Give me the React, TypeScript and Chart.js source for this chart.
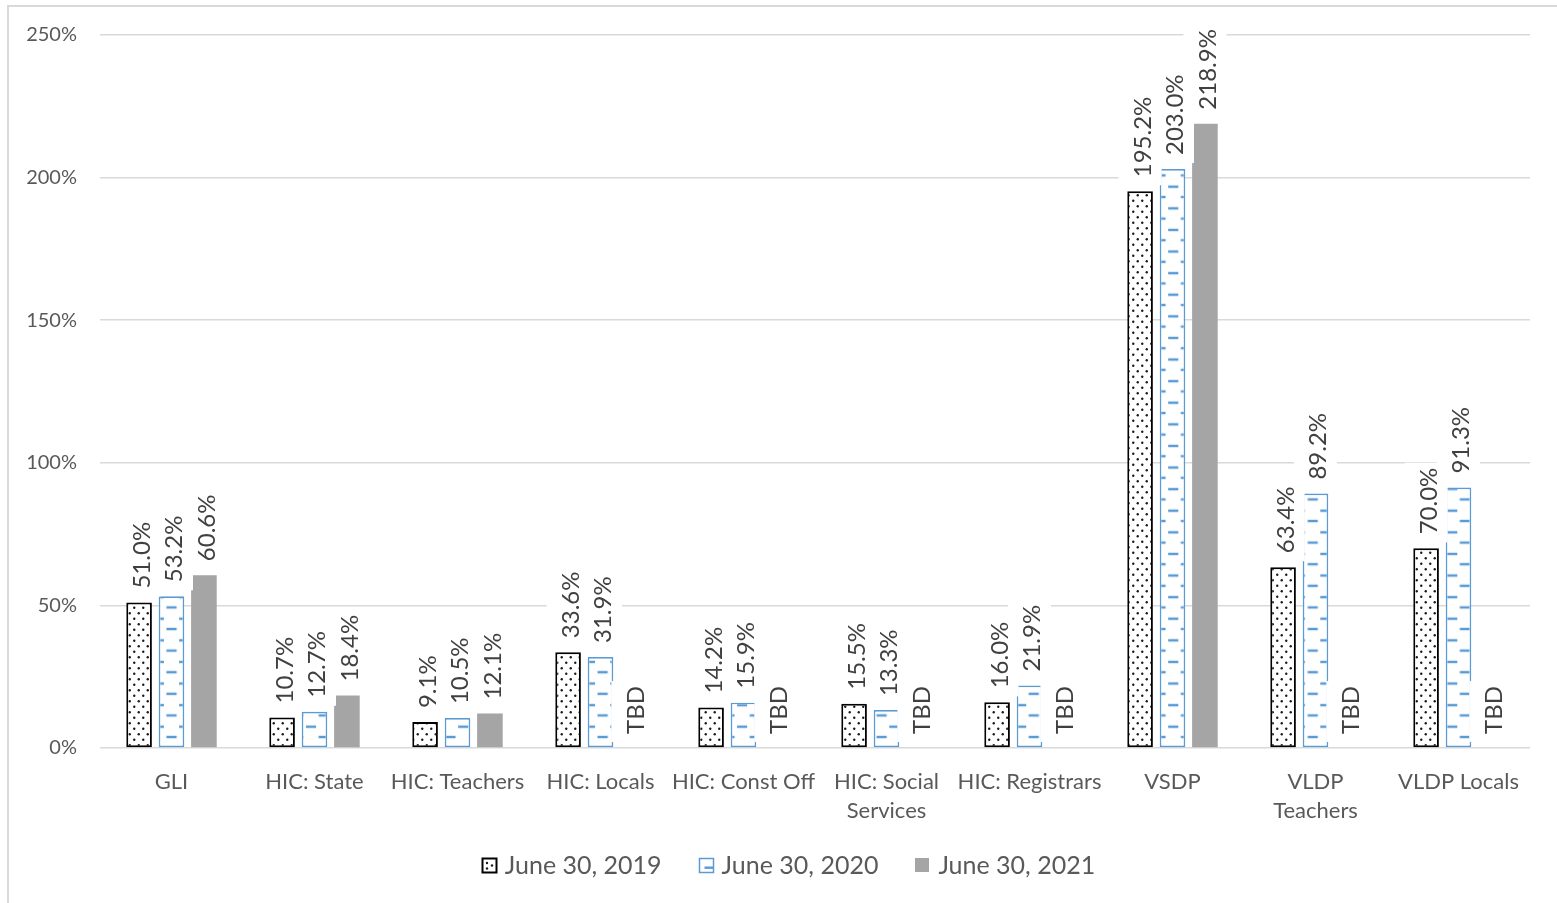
import React, { useEffect, useRef } from 'react';
import { Chart, registerables } from 'chart.js';

Chart.register(...registerables);

// Categories along the x axis (arrays give multi-line labels)
const categories: string[][] = [
  ['GLI'],
  ['HIC: State'],
  ['HIC: Teachers'],
  ['HIC: Locals'],
  ['HIC: Const Off'],
  ['HIC: Social', 'Services'],
  ['HIC: Registrars'],
  ['VSDP'],
  ['VLDP', 'Teachers'],
  ['VLDP Locals'],
];

const seriesLabels = ['June 30, 2019', 'June 30, 2020', 'June 30, 2021'];

// Funded ratios in percent; null = not yet determined
const rates2019: number[] = [51.0, 10.7, 9.1, 33.6, 14.2, 15.5, 16.0, 195.2, 63.4, 70.0];
const rates2020: number[] = [53.2, 12.7, 10.5, 31.9, 15.9, 13.3, 21.9, 203.0, 89.2, 91.3];
const rates2021: (number | null)[] = [60.6, 18.4, 12.1, null, null, null, null, 218.9, null, null];

const yMin = 0;
const yMax = 250;
const yStep = 50;
const pendingText = 'TBD';

const FONT = 'Lato, "Open Sans", sans-serif';
const TEXT = '#595959';
const LABEL = '#404040';
const GRID = '#d9d9d9';
const BLUE = '#5b9bd5';
const GRAY = '#a5a5a5';

// Dash hatch tile (scaled through the pattern transform)
const DASH_W = 25;
const DASH_H = 21;
const DASH_PERIOD_X = 25.36;
const DASH_PERIOD_Y = 21.6;

function dotTile(): HTMLCanvasElement {
  const c = document.createElement('canvas');
  c.width = 9;
  c.height = 11;
  const g = c.getContext('2d')!;
  g.fillStyle = '#ffffff';
  g.fillRect(0, 0, 9, 11);
  g.fillStyle = '#1a1a1a';
  g.beginPath();
  g.arc(2.25, 2.75, 1.2, 0, Math.PI * 2);
  g.fill();
  g.beginPath();
  g.arc(6.75, 8.25, 1.2, 0, Math.PI * 2);
  g.fill();
  return c;
}

function dashTile(): HTMLCanvasElement {
  const c = document.createElement('canvas');
  c.width = DASH_W;
  c.height = DASH_H;
  const g = c.getContext('2d')!;
  g.fillStyle = '#ffffff';
  g.fillRect(0, 0, DASH_W, DASH_H);
  g.fillStyle = BLUE;
  const len = 10;
  g.fillRect(DASH_W / 2 - len / 2, 9.8, len, 2.4);
  g.fillRect(0, -0.2, len / 2, 2.4);
  g.fillRect(DASH_W - len / 2, -0.2, len / 2, 2.4);
  g.fillRect(0, DASH_H - 0.2, len / 2, 2.4);
  g.fillRect(DASH_W - len / 2, DASH_H - 0.2, len / 2, 2.4);
  return c;
}

// Rotated value labels on a white backing, "TBD" where no value exists
const valueLabels = {
  id: 'valueLabels',
  afterDatasetsDraw(chart: any) {
    const { ctx } = chart;
    const base = chart.scales.y.getPixelForValue(0);
    chart.data.datasets.forEach((ds: any, di: number) => {
      const meta = chart.getDatasetMeta(di);
      meta.data.forEach((el: any, i: number) => {
        const v = ds.data[i];
        const text = v == null ? pendingText : `${Number(v).toFixed(1)}%`;
        const top = v == null ? base : el.y;
        const x = el.x;
        ctx.save();
        ctx.font = `24px ${FONT}`;
        const w = ctx.measureText(text).width;
        const textBottom = top - 14;
        ctx.fillStyle = '#ffffff';
        ctx.fillRect(x - 21.5, textBottom - w - 5, 43, w + 13);
        ctx.translate(x + 3, textBottom);
        ctx.rotate(-Math.PI / 2);
        ctx.fillStyle = LABEL;
        ctx.textAlign = 'left';
        ctx.textBaseline = 'middle';
        ctx.fillText(text, 0, 0);
        ctx.restore();
      });
    });
  },
};

// Legend row under the axis labels
const bottomLegend = {
  id: 'bottomLegend',
  afterDraw(chart: any) {
    const { ctx } = chart;
    const gap = 9;
    const box = 14;
    const spacing = 37;
    const cy = 865;
    ctx.save();
    ctx.font = `25px ${FONT}`;
    const widths = chart.data.datasets.map((ds: any) => ctx.measureText(ds.label).width);
    const total = widths.reduce((a: number, w: number) => a + box + gap + w, 0) + spacing * (widths.length - 1);
    let x = chart.width / 2 + 10 - total / 2;
    chart.data.datasets.forEach((ds: any, i: number) => {
      const bx = Math.round(x) + 0.5;
      const by = Math.round(cy - box / 2) + 0.5;
      if (i === 0) {
        ctx.fillStyle = '#ffffff';
        ctx.fillRect(bx, by, box, box);
        ctx.fillStyle = '#1a1a1a';
        [[4.5, 4.5], [9.5, 7], [4.5, 10]].forEach(([dx, dy]) => {
          ctx.beginPath();
          ctx.arc(bx + dx, by + dy, 1.2, 0, Math.PI * 2);
          ctx.fill();
        });
        ctx.strokeStyle = '#000000';
        ctx.lineWidth = 2;
        ctx.strokeRect(bx, by, box, box);
      } else if (i === 1) {
        ctx.fillStyle = '#ffffff';
        ctx.fillRect(bx, by, box, box);
        ctx.fillStyle = BLUE;
        ctx.fillRect(bx + 5, by + 8, 9, 2.4);
        ctx.strokeStyle = BLUE;
        ctx.lineWidth = 1.5;
        ctx.strokeRect(bx, by, box, box);
      } else {
        ctx.fillStyle = GRAY;
        ctx.fillRect(bx - 0.5, by - 0.5, box, box);
      }
      ctx.fillStyle = TEXT;
      ctx.textAlign = 'left';
      ctx.textBaseline = 'middle';
      ctx.fillText(ds.label, x + box + gap, cy + 1);
      x += box + gap + widths[i] + spacing;
    });
    ctx.restore();
  },
};

export default function App() {
  const canvasRef = useRef<HTMLCanvasElement | null>(null);

  useEffect(() => {
    const canvas = canvasRef.current;
    if (!canvas) return;
    const ctx = canvas.getContext('2d')!;
    const dots = ctx.createPattern(dotTile(), 'repeat')!;
    const dashes = ctx.createPattern(dashTile(), 'repeat')!;

    // Anchor the hatch patterns to the plot's first category and baseline
    const patternAnchor = {
      id: 'patternAnchor',
      beforeDatasetsDraw(chart: any) {
        const x0 = chart.scales.x.getPixelForValue(0);
        const y0 = chart.scales.y.getPixelForValue(0);
        const sx = DASH_PERIOD_X / DASH_W;
        const sy = DASH_PERIOD_Y / DASH_H;
        dashes.setTransform(
          new DOMMatrix().translate(x0 - (DASH_W / 2) * sx, y0 - 11 - 11 * sy).scale(sx, sy)
        );
        dots.setTransform(new DOMMatrix().translate(Math.round(x0) - 4, Math.round(y0)));
      },
    };

    const chart = new Chart(canvas, {
      type: 'bar',
      data: {
        labels: categories,
        datasets: [
          {
            label: seriesLabels[0],
            data: rates2019,
            backgroundColor: dots,
            borderColor: '#000000',
            borderWidth: 2,
            borderSkipped: false,
          },
          {
            label: seriesLabels[1],
            data: rates2020,
            backgroundColor: dashes,
            borderColor: BLUE,
            borderWidth: 1.7,
            borderSkipped: false,
          },
          {
            label: seriesLabels[2],
            data: rates2021,
            backgroundColor: GRAY,
            borderWidth: 0,
          },
        ],
      },
      options: {
        responsive: false,
        animation: false,
        datasets: {
          bar: { categoryPercentage: 0.68, barPercentage: 0.79 },
        },
        layout: { padding: { left: 0, right: 27, top: 33, bottom: 65 } },
        plugins: {
          legend: { display: false },
          tooltip: { enabled: false },
        },
        scales: {
          x: {
            grid: { display: false },
            border: { display: false },
            ticks: {
              font: { family: FONT, size: 22, lineHeight: 1.32 },
              color: TEXT,
              padding: 11,
              maxRotation: 0,
              autoSkip: false,
            },
            afterFit: (s: any) => {
              s.height = 90;
            },
          },
          y: {
            min: yMin,
            max: yMax,
            ticks: {
              stepSize: yStep,
              callback: (v: any) => `${v}%`,
              font: { family: FONT, size: 20 },
              color: TEXT,
              padding: 23,
            },
            grid: { color: GRID, lineWidth: 1.5, drawTicks: false },
            border: { display: false },
            afterFit: (s: any) => {
              s.width = 100;
            },
          },
        },
      },
      plugins: [patternAnchor, valueLabels, bottomLegend],
    });

    return () => {
      chart.destroy();
    };
  }, []);

  return (
    <div style={{ position: 'fixed', left: 0, top: 0, width: 1557, height: 903, overflow: 'hidden', background: '#ffffff' }}>
      <div
        style={{
          position: 'absolute',
          left: 7,
          top: 5,
          width: 1600,
          height: 1000,
          borderLeft: '2px solid #d9d9d9',
          borderTop: '2px solid #d9d9d9',
          boxSizing: 'border-box',
        }}
      />
      <canvas ref={canvasRef} width={1557} height={903} style={{ position: 'absolute', left: 0, top: 0, width: 1557, height: 903 }} />
    </div>
  );
}
